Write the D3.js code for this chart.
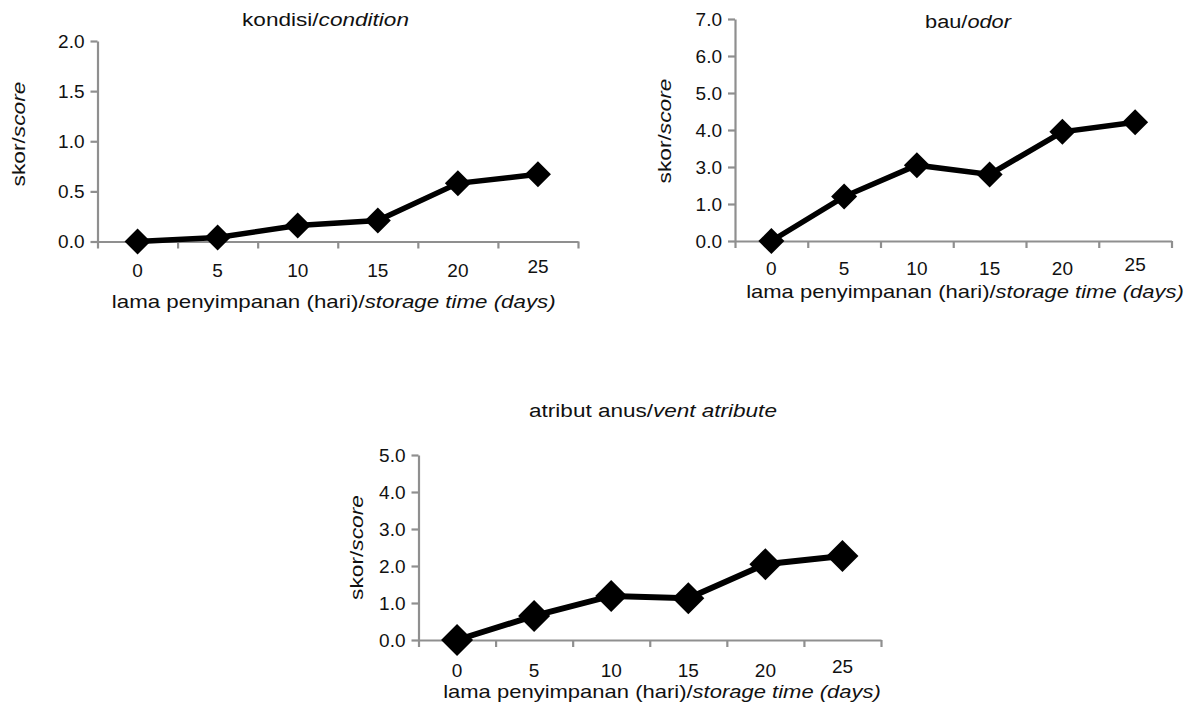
<!DOCTYPE html>
<html>
<head>
<meta charset="utf-8">
<script src="https://cdn.jsdelivr.net/npm/d3@7"></script>
<style>
  html, body { margin: 0; padding: 0; background: #fff; }
  svg { display: block; }
  text { font-family: "Liberation Sans", Arial, sans-serif; fill: #111; }
</style>
</head>
<body>
<svg id="chart" width="1194" height="703"></svg>
<script>
// ---------- data ----------
const storageDays = [0, 5, 10, 15, 20, 25];
const kondisiScores = [0, 0.04, 0.16, 0.21, 0.58, 0.67];
const bauScores = [0, 1.4, 3.05, 2.6, 3.95, 4.21];
const anusScores = [0, 0.65, 1.19, 1.13, 2.05, 2.27];

const kondisiTicks = [0, 0.5, 1.0, 1.5, 2.0];
const bauTicks = [0, 1, 3, 4, 5, 6, 7];      // as printed (2.0 label absent)
const anusTicks = [0, 1, 2, 3, 4, 5];

const kondisiTitle = ["kondisi/", "condition"];
const bauTitle = ["bau/", "odor"];
const anusTitle = ["atribut anus/", "vent atribute"];
const xAxisTitle = ["lama penyimpanan (hari)/", "storage time (days)"];
const yAxisTitle = ["skor/", "score"];

// ---------- layout ----------
const panels = [
  { values: kondisiScores, ticks: kondisiTicks, title: kondisiTitle,
    left: 97.5, right: 578, bottom: 241.5, top: 41,
    titleX: 325.5, titleY: 20, titleW: 167,
    xlabX: 333.7, xlabY: 301.7, xlabW: 444,
    ylabX: 19, ylabY: 134, ylabW: 105,
    tickPad: 22.5, half: 13, lw: 5.5 },
  { values: bauScores, ticks: bauTicks, title: bauTitle,
    left: 735, right: 1171.5, bottom: 241, top: 19,
    titleX: 968, titleY: 21.5, titleW: 86,
    xlabX: 965, xlabY: 291.7, xlabW: 438,
    ylabX: 665, ylabY: 131, ylabW: 105,
    tickPad: 21, half: 13, lw: 5.5 },
  { values: anusScores, ticks: anusTicks, title: anusTitle,
    left: 418.5, right: 881, bottom: 640, top: 455,
    titleX: 653, titleY: 410.7, titleW: 248,
    xlabX: 662, xlabY: 691.7, xlabW: 438,
    ylabX: 357, ylabY: 547.5, ylabW: 105,
    tickPad: 24, half: 16, lw: 6 }
];

const AXIS_COLOR = "#8f8f8f";
const svg = d3.select("#chart");

function stretchedText(g, parts, x, y, width, rotate) {
  const t = g.append("text")
    .attr("text-anchor", "middle")
    .attr("dy", "0.35em")
    .style("font-size", "18px");
  t.append("tspan").text(parts[0]);
  t.append("tspan").style("font-style", "italic").text(parts[1]);
  const natural = t.node().getComputedTextLength();
  const s = width / natural;
  t.attr("transform", `translate(${x},${y})` + (rotate ? " rotate(-90)" : "") + ` scale(${s},1)`);
  return t;
}

panels.forEach(p => {
  const g = svg.append("g");

  const x = d3.scaleBand().domain(storageDays).range([p.left, p.right]).padding(0);
  const edge = d3.scaleLinear().domain([0, storageDays.length]).range([p.left, p.right]);
  const idx = d3.scaleLinear().domain([0, p.ticks.length - 1]).range([p.bottom, p.top]);
  const y = d3.scaleLinear().domain(p.ticks).range(p.ticks.map((d, i) => idx(i)));

  // y axis
  const yAxis = g.append("g")
    .attr("transform", `translate(${p.left},0)`)
    .call(d3.axisLeft(y).tickValues(p.ticks).tickFormat(d3.format(".1f"))
      .tickSize(7).tickSizeOuter(0).tickPadding(6));
  yAxis.selectAll("text").style("font-size", "19px").attr("fill", "#111");

  // x axis boundary ticks
  const xTickAxis = g.append("g")
    .attr("transform", `translate(0,${p.bottom})`)
    .call(d3.axisBottom(edge).tickValues(d3.range(storageDays.length + 1))
      .tickFormat("").tickSize(7).tickSizeOuter(0));

  // x category labels
  const xLab = g.append("g")
    .attr("transform", `translate(0,${p.bottom})`)
    .call(d3.axisBottom(x).tickSize(0).tickPadding(p.tickPad));
  xLab.select(".domain").remove();
  xLab.selectAll("text").style("font-size", "19px").attr("fill", "#111");
  xLab.selectAll(".tick").filter((d, i) => i === storageDays.length - 1)
    .select("text").attr("y", p.tickPad - 4);

  [yAxis, xTickAxis].forEach(a => {
    a.select(".domain").attr("stroke", AXIS_COLOR).attr("stroke-width", 2.2);
    a.selectAll(".tick line").attr("stroke", AXIS_COLOR).attr("stroke-width", 2.2);
  });

  // line
  const cx = d => x(d) + x.bandwidth() / 2;
  const line = d3.line().x((d, i) => cx(storageDays[i])).y(d => y(d));
  g.append("path").datum(p.values)
    .attr("d", line)
    .attr("fill", "none").attr("stroke", "#000")
    .attr("stroke-width", p.lw).attr("stroke-linejoin", "miter");

  // diamond markers
  const sym = d3.symbol().type(d3.symbolSquare).size(2 * p.half * p.half);
  g.selectAll(".pt").data(p.values).join("path")
    .attr("class", "pt")
    .attr("d", sym)
    .attr("transform", (d, i) => `translate(${cx(storageDays[i])},${y(d)}) rotate(45)`)
    .attr("fill", "#000");

  // titles / axis labels
  stretchedText(g, p.title, p.titleX, p.titleY, p.titleW, false);
  stretchedText(g, xAxisTitle, p.xlabX, p.xlabY, p.xlabW, false);
  stretchedText(g, yAxisTitle, p.ylabX, p.ylabY, p.ylabW, true);
});
</script>
</body>
</html>
